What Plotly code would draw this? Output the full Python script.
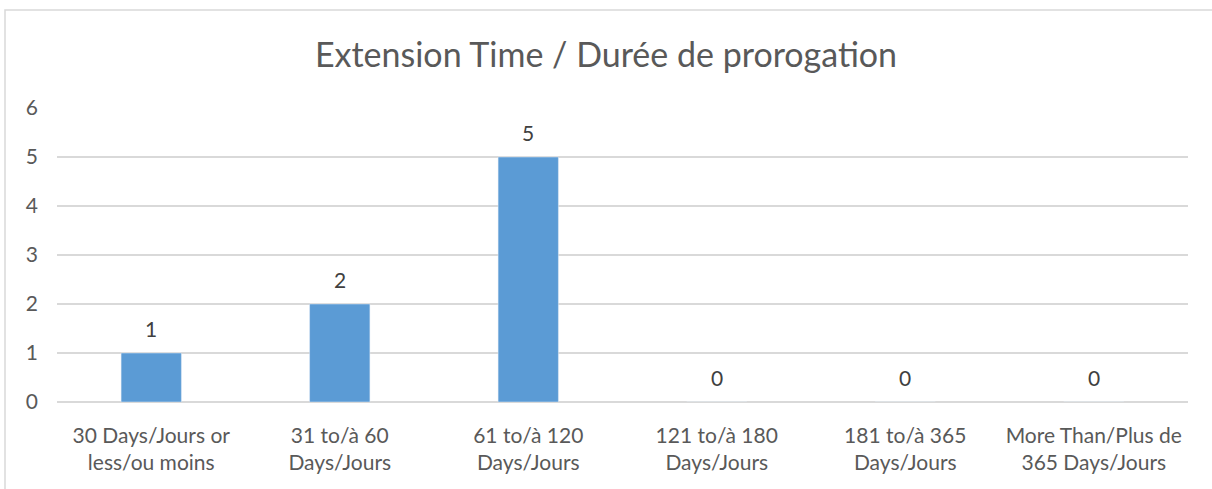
import plotly.graph_objects as go

# données du graphique
categories = [
    "30 Days/Jours or<br>less/ou moins",
    "31 to/à 60<br>Days/Jours",
    "61 to/à 120<br>Days/Jours",
    "121 to/à 180<br>Days/Jours",
    "181 to/à 365<br>Days/Jours",
    "More Than/Plus de<br>365 Days/Jours",
]
valeurs = [1, 2, 5, 0, 0, 0]
ticks_y = [0, 1, 2, 3, 4, 5, 6]

W, H = 1212, 489
ml, mr, mt, mb = 57, 24, 108, 87
pw, ph = W - ml - mr, H - mt - mb

fig = go.Figure(go.Bar(
    x=categories,
    y=valeurs,
    marker_color="#5B9BD5",
))

# étiquettes de valeur au-dessus des barres
for c, v in zip(categories, valeurs):
    fig.add_annotation(x=c, y=v, text=str(v), showarrow=False, yanchor="middle",
                       yshift=25, font=dict(size=21, color="#404040"))

# cadre gris autour du graphique
fig.add_shape(
    type="rect", xref="paper", yref="paper",
    x0=(5 - ml) / pw, x1=(W + 5 - ml) / pw,
    y0=-(H + 5 - ph - mt) / ph, y1=(H - 10 - mb) / ph,
    line=dict(color="#D9D9D9", width=1.5),
)

fig.update_layout(
    width=W, height=H,
    margin=dict(l=ml, r=mr, t=mt, b=mb),
    paper_bgcolor="white", plot_bgcolor="white",
    font=dict(family="Lato, Open Sans, sans-serif", color="#595959", size=21),
    title=dict(text="Extension Time / Durée de prorogation", x=0.5, xanchor="center",
               y=1 - 55 / H, yanchor="middle", font=dict(size=34, color="#595959")),
    bargap=0.68,
    showlegend=False,
    xaxis=dict(showgrid=False, ticks="", showline=False, tickfont=dict(size=21),
               ticklabelstandoff=19),
    yaxis=dict(range=[0, 6], tickvals=ticks_y, showgrid=True, gridcolor="#D9D9D9",
               gridwidth=1.5, zeroline=True, zerolinecolor="#D9D9D9", zerolinewidth=1.5,
               ticks="", ticklabelstandoff=18, tickfont=dict(size=21)),
)

fig.write_html("out.html", config={"displayModeBar": False},
               post_script="document.body.style.margin='0';")
